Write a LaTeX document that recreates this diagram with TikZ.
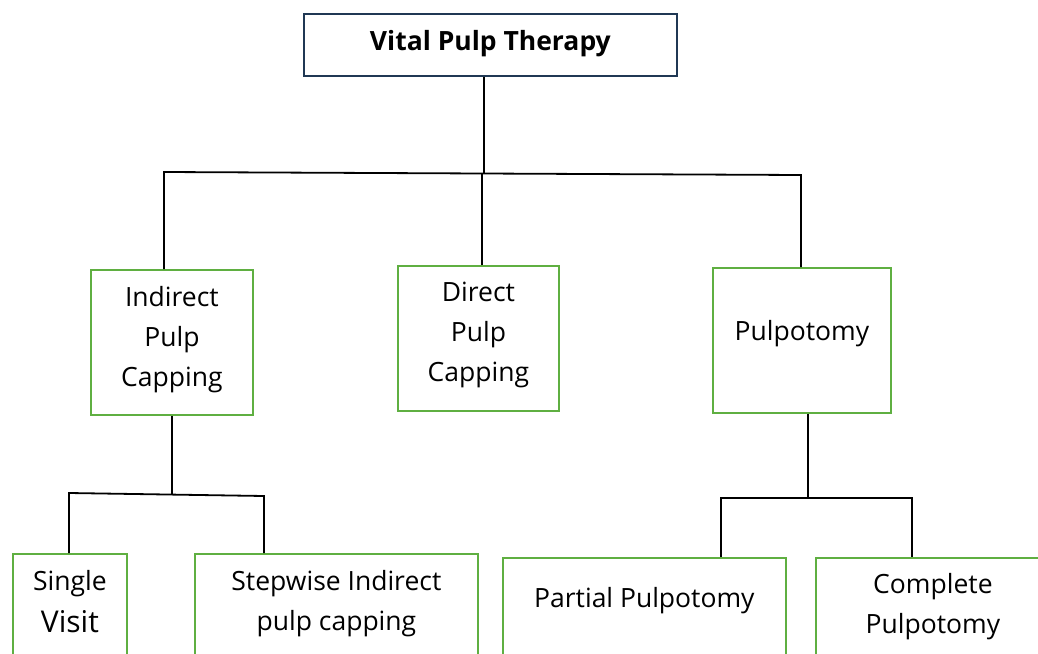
\documentclass[tikz,border=0pt]{standalone}
\usepackage{fontspec}
\setmainfont{Open Sans}
\definecolor{gbox}{RGB}{95,175,65}
\definecolor{nbox}{RGB}{32,56,84}
\newcommand\mlines[1]{\begin{tabular}[t]{@{}c@{}}#1\end{tabular}}
\begin{document}
\begin{tikzpicture}[x=1pt,y=-1pt,
  box/.style={draw=gbox,line width=1.8pt,inner sep=0pt,anchor=north west,
              font=\fontsize{26.5}{40}\selectfont},
  link/.style={draw=black,line width=1.8pt}]
\clip (0,0) rectangle (1038,653);
\fill[white] (0,0) rectangle (1038,653);

% boxes
\node[box,draw=nbox,font=\bfseries\fontsize{26.5}{40}\selectfont,
      minimum width=373pt,text height=37pt,text depth=25pt] (top) at (303,13) {Vital Pulp Therapy};
\node[box,minimum width=162pt,text height=37pt,text depth=108pt] (ind) at (90,269) {\mlines{Indirect\\Pulp\\Capping}};
\node[box,minimum width=161pt,text height=36pt,text depth=109pt] (dir) at (397,265) {\mlines{Direct\\Pulp\\Capping}};
\node[box,minimum width=178pt,text height=73pt,text depth=72pt] (pul) at (712,267) {Pulpotomy};
\node[box,minimum width=114pt,text height=37pt,text depth=150pt] (sv) at (12,553) {\mlines{Single\\[2pt]{\fontsize{30}{42}\selectfont Visit}}};
\node[box,minimum width=283pt,text height=37pt,text depth=150pt] (sw) at (194,553) {\mlines{Stepwise Indirect\\pulp capping}};
\node[box,minimum width=283pt,text height=50pt,text depth=150pt] (pp) at (502,557) {Partial Pulpotomy};
\node[box,minimum width=234pt,text height=36pt,text depth=150pt] (cp) at (815,557) {\mlines{Complete\\Pulpotomy}};

% junction points
\coordinate (t1) at (484,173);
\coordinate (hL) at (164,172);
\coordinate (hR) at (801,175);
\coordinate (d1) at (482,173);
\coordinate (b1) at (172,494);
\coordinate (bL) at (69,493);
\coordinate (bR) at (264,496);
\coordinate (p1) at (808,498);
\coordinate (pL) at (721,498);
\coordinate (pR) at (912,498);

% connectors
\draw[link] (top.south -| t1) -- (t1);
\draw[link] (ind.north -| hL) -- (hL) -- (hR) -- (pul.north -| hR);
\draw[link] (dir.north -| d1) -- (d1);
\draw[link] (ind.south -| b1) -- (b1);
\draw[link] (sv.north -| bL) -- (bL) -- (bR) -- (sw.north -| bR);
\draw[link] (pul.south -| p1) -- (p1);
\draw[link] (pp.north -| pL) -- (pL) -- (pR) -- (cp.north -| pR);
\end{tikzpicture}
\end{document}
